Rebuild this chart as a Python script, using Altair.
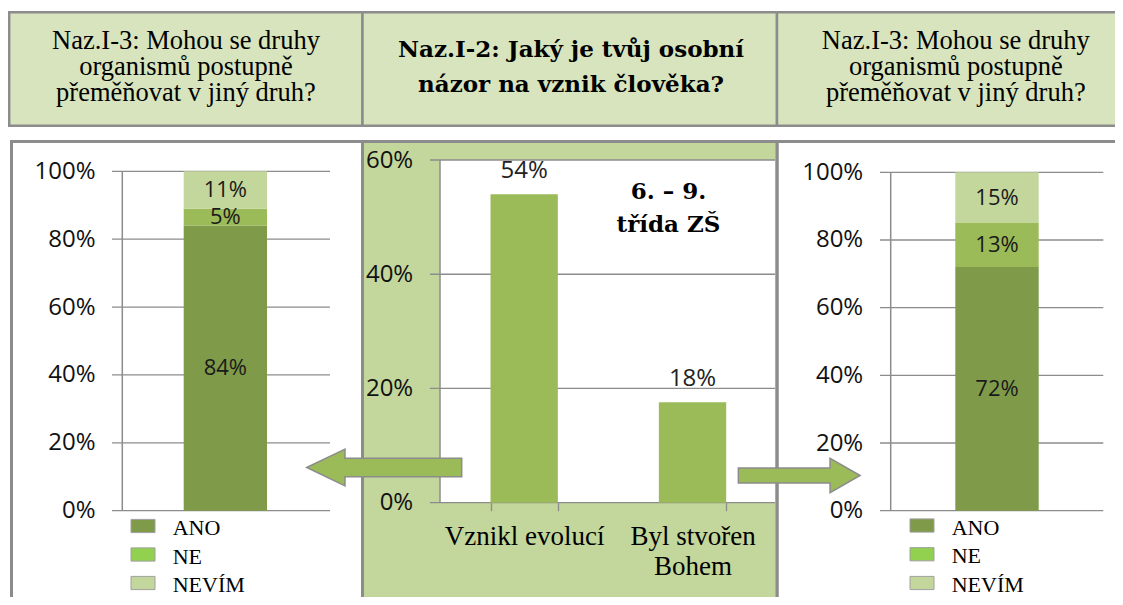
import altair as alt
import pandas as pd

# ---------------- data ----------------
answers = ["ANO", "NE", "NEVÍM"]
left_values = [0.84, 0.05, 0.11]
right_values = [0.72, 0.13, 0.15]
origin_categories = ["Vznikl evolucí", "Byl stvořen Bohem"]
origin_values = [0.54, 0.176]
stack_ticks = [0, 0.2, 0.4, 0.6, 0.8, 1.0]
origin_ticks = [0, 0.2, 0.4, 0.6]
side_title = ["Naz.I-3: Mohou se druhy", "organismů postupně", "přeměňovat v jiný druh?"]
mid_title = ["Naz.I-2: Jaký je tvůj osobní", "názor na vznik člověka?"]
group_label = ["6. – 9.", "třída ZŠ"]

# ---------------- styles ----------------
C_ANO = "#7f9a48"
C_NE_BAR = "#9bbb59"
C_NE_LEG = "#92d050"
C_NEVIM = "#c3d69b"
HEAD_FILL = "#d7e4bd"
MID_FILL = "#c3d69b"
BORDER = "#8c8c8c"
GRID = "#8c8c8c"
SANS = "Open Sans"
SERIF = "Liberation Serif"
SERIF_BOLD = "DejaVu Serif"
W, H = 1107, 589

one = alt.Data(values=[{}])


def box(x1, x2, y1, y2, fill, sw, fill_opacity=1):
    return alt.Chart(one).mark_rect(fill=fill, fillOpacity=fill_opacity, stroke=BORDER,
                                    strokeWidth=sw).encode(
        x=alt.value(x1), x2=alt.value(x2), y=alt.value(y1), y2=alt.value(y2))


def title_text(lines, x, y, size, lh, font=SERIF, weight="normal"):
    return alt.Chart(one).mark_text(
        text=lines, font=font, fontSize=size, lineHeight=lh, fontWeight=weight,
        align="center", baseline="top", color="#000000").encode(
        x=alt.value(x), y=alt.value(y))


def y_axis(axis_x, label_right, ticks):
    return alt.Axis(orient="left", offset=-axis_x, values=ticks, format=".0%",
                    ticks=False, grid=False, domain=False,
                    labelFont=SANS, labelFontSize=24, labelColor="#111111",
                    labelPadding=axis_x - label_right, title=None, zindex=1)


def stacked(values, bar_range, axis_x, label_right, gx1, gx2, yrange):
    df = pd.DataFrame({"q": ["Q"] * 3, "answer": answers, "idx": [0, 1, 2], "value": values})
    yscale = alt.Scale(domain=[0, 1], range=yrange, nice=False)
    xscale = alt.Scale(domain=["Q"], range=bar_range, paddingInner=0, paddingOuter=0)
    base = alt.Chart(df).transform_stack(
        stack="value", groupby=["q"], as_=["v0", "v1"],
        sort=[alt.SortField("idx", order="ascending")]
    ).transform_calculate(mid="(datum.v0 + datum.v1) / 2")
    grid = alt.Chart(pd.DataFrame({"t": stack_ticks})).mark_rule(
        color=GRID, strokeWidth=1.3).encode(
        y=alt.Y("t:Q", scale=yscale, axis=y_axis(axis_x, label_right, stack_ticks)),
        x=alt.value(gx1), x2=alt.value(gx2))
    vline = alt.Chart(pd.DataFrame({"lo": [min(stack_ticks)], "hi": [max(stack_ticks)]})).mark_rule(
        color=GRID, strokeWidth=1.5).encode(
        y=alt.Y("lo:Q", scale=yscale, axis=None), y2="hi:Q", x=alt.value(axis_x))
    bars = base.mark_bar().encode(
        x=alt.X("q:N", scale=xscale, axis=None),
        y=alt.Y("v0:Q", scale=yscale, axis=None, stack=False),
        y2="v1:Q",
        color=alt.Color("answer:N", scale=alt.Scale(domain=answers, range=[C_ANO, C_NE_BAR, C_NEVIM]),
                        legend=None))
    labels = base.mark_text(font=SANS, fontSize=22, color="#1a1a1a", baseline="middle").encode(
        x=alt.X("q:N", scale=xscale, axis=None),
        y=alt.Y("mid:Q", scale=yscale, axis=None),
        text=alt.Text("value:Q", format=".0%"))
    return [grid, vline, bars, labels]


RECT_PATH = "M-1,-0.55L1,-0.55L1,0.55L-1,0.55Z"


def legend(marker_x, text_x, yrange):
    df = pd.DataFrame({"answer": answers})
    ys = alt.Scale(type="point", domain=answers, range=yrange, padding=0)
    marks = alt.Chart(df).mark_point(
        shape=RECT_PATH, size=576, filled=True, opacity=1, fillOpacity=1,
        stroke="#a0a0a0", strokeWidth=1).encode(
        y=alt.Y("answer:N", scale=ys, axis=None),
        x=alt.value(marker_x),
        fill=alt.Fill("answer:N", scale=alt.Scale(domain=answers, range=[C_ANO, C_NE_LEG, C_NEVIM]),
                      legend=None))
    texts = alt.Chart(df).mark_text(
        align="left", baseline="middle", dy=2, font=SERIF, fontSize=22, color="#000000").encode(
        y=alt.Y("answer:N", scale=ys, axis=None),
        x=alt.value(text_x),
        text="answer:N")
    return [marks, texts]


# ---------------- middle chart ----------------
mid_y = alt.Scale(domain=[0, 0.6], range=[494.7, 152], nice=False)
mid_x = alt.Scale(domain=origin_categories, range=[432, 768.7], paddingInner=0.6, paddingOuter=0.3)
df_mid = pd.DataFrame({"cat": origin_categories, "value": origin_values})
df_ext = pd.DataFrame({"lo": [min(origin_ticks)], "hi": [max(origin_ticks)]})

mid_bg = alt.Chart(df_ext).mark_rect(fill="white").encode(
    y=alt.Y("lo:Q", scale=mid_y, axis=None), y2="hi:Q", x=alt.value(432), x2=alt.value(767))
mid_grid = alt.Chart(pd.DataFrame({"t": origin_ticks})).mark_rule(color=GRID, strokeWidth=1.3).encode(
    y=alt.Y("t:Q", scale=mid_y, axis=y_axis(432, 404.7, origin_ticks)),
    x=alt.value(422), x2=alt.value(767))
mid_vline = alt.Chart(df_ext).mark_rule(color=GRID, strokeWidth=1.5).encode(
    y=alt.Y("lo:Q", scale=mid_y, axis=None), y2="hi:Q", x=alt.value(432))
mid_bars = alt.Chart(df_mid).mark_bar(color=C_NE_BAR).encode(
    x=alt.X("cat:N", scale=mid_x, sort=origin_categories,
            axis=alt.Axis(orient="bottom", offset=494.7 - H, ticks=True, tickBand="extent",
                          tickSize=8, tickColor=GRID, tickWidth=1.3, domain=False, grid=False,
                          labelFont=SERIF, labelFontSize=27, labelColor="#000000",
                          labelBaseline="top", labelPadding=13, labelLineHeight=30,
                          labelAngle=0, labelLimit=400,
                          labelExpr="datum.label == 'Byl stvořen Bohem' ? ['Byl stvořen', 'Bohem'] : datum.label",
                          title=None, zindex=1)),
    y=alt.Y("value:Q", scale=mid_y, axis=None))
mid_labels = alt.Chart(df_mid).mark_text(
    font=SANS, fontSize=24, color="#222222", baseline="alphabetic", dy=-16).encode(
    x=alt.X("cat:N", scale=mid_x, sort=origin_categories, axis=None),
    y=alt.Y("value:Q", scale=mid_y, axis=None),
    text=alt.Text("value:Q", format=".0%"))

# ---------------- arrows ----------------
LEFT_ARROW = "M-1,0L-0.506,-0.237L-0.506,-0.119L1,-0.119L1,0.119L-0.506,0.119L-0.506,0.237Z"
RIGHT_ARROW = "M1,0L0.507,-0.283L0.507,-0.123L-1,-0.123L-1,0.123L0.507,0.123L0.507,0.283Z"


def arrow(path, size, x, y):
    return alt.Chart(one).mark_point(
        shape=path, size=size, filled=True, fill=C_NE_BAR, stroke=BORDER,
        strokeWidth=1.5, opacity=1, fillOpacity=1).encode(x=alt.value(x), y=alt.value(y))


layers = [
    box(1.2, 354.5, 4.3, 117.7, HEAD_FILL, 2.5),
    box(354.5, 769, 4.3, 117.7, HEAD_FILL, 2.5),
    box(769, 1125, 4.3, 117.7, HEAD_FILL, 2.5),
    box(3.5, 354.5, 133.5, 620, "white", 3, 0),
    box(769, 1125, 133.5, 620, "white", 3, 0),
    box(354.5, 769, 133.5, 620, MID_FILL, 3),
    title_text(side_title, 178, 19.5, 26.5, 26),
    title_text(mid_title, 563, 30.8, 23, 35, SERIF_BOLD, "bold"),
    title_text(side_title, 947.8, 19.5, 26.5, 26),
    *stacked(left_values, [175.7, 259], 114.3, 87, 104, 322, [502.7, 163.3]),
    mid_bg, mid_grid, mid_vline, mid_bars, mid_labels,
    *stacked(right_values, [947.3, 1030.7], 882.7, 854.7, 872, 1095.3, [502.7, 164.3]),
    title_text(group_label, 660.5, 173, 23, 33.4, SERIF_BOLD, "bold"),
    *legend(135, 164.7, [518, 575]),
    *legend(914, 943.7, [517.5, 575]),
    arrow(LEFT_ARROW, 24025, 376.2, 459.5),
    arrow(RIGHT_ARROW, 14811, 791.2, 467.5),
]

chart = alt.layer(*layers).resolve_scale(
    x="independent", y="independent", color="independent", fill="independent"
).properties(
    width=W, height=H, padding=0, autosize=alt.AutoSizeParams(type="none"),
    background="white"
).configure_view(stroke="transparent")

chart.save("out.html", embed_options={"renderer": "svg", "actions": False})
